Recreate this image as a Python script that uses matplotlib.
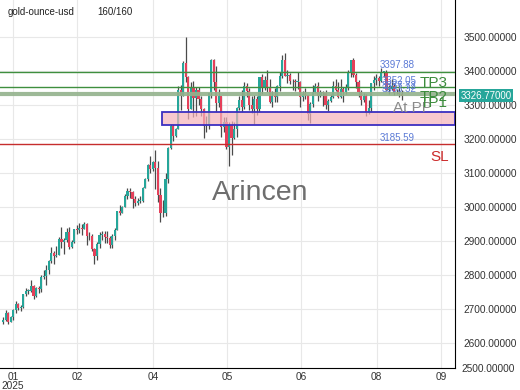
import matplotlib.pyplot as plt
import matplotlib.transforms as mtransforms
from matplotlib.patches import Rectangle
import numpy as np

plt.rcParams['font.family'] = ['Liberation Sans', 'DejaVu Sans']

# daily candles, 2025-01-09 .. 2025-08-19
opens = [2662, 2670, 2690, 2663, 2677, 2697, 2715, 2703, 2708, 2745, 2755, 2755, 2770, 2740, 2763, 2760, 2794,
         2798, 2815, 2842, 2866, 2856, 2861, 2908, 2898, 2904, 2928, 2882, 2898, 2935, 2933, 2939, 2936, 2952, 2915, 2916, 2876,
         2858, 2893, 2918, 2920, 2911, 2910, 2889, 2916, 2934, 2988, 2984, 3001, 3034, 3048, 3044, 3023, 3011, 3019, 3019, 3057, 3084,
         3123, 3113, 3134, 3114, 3037, 2982, 2983, 3082, 3175, 3237, 3210, 3230, 3343, 3327, 3424, 3381, 3288, 3349, 3319, 3344, 3317,
         3288, 3239, 3240, 3334, 3431, 3366, 3305, 3325, 3235, 3250, 3177, 3240, 3202, 3229, 3290, 3314, 3295, 3357, 3342, 3300, 3288, 3318,
         3289, 3381, 3352, 3372, 3352, 3310, 3325, 3322, 3355, 3386, 3432, 3385, 3389, 3369, 3370, 3368, 3368, 3323, 3332, 3328, 3274,
         3303, 3338, 3357, 3326, 3337, 3336, 3301, 3313, 3324, 3355, 3343, 3324, 3347, 3339, 3350, 3397, 3431, 3387, 3368, 3337, 3314, 3326, 3275,
         3290, 3363, 3373, 3380, 3369, 3397, 3398, 3343, 3348, 3356, 3335, 3336, 3332]
highs = [2678, 2697, 2692, 2681, 2700, 2725, 2718, 2712, 2746, 2763, 2759, 2786, 2773, 2765, 2770, 2800, 2817,
         2830, 2845, 2882, 2870, 2886, 2911, 2942, 2910, 2938, 2942, 2905, 2937, 2947, 2954, 2950, 2956, 2955, 2928, 2920, 2880,
         2898, 2928, 2930, 2930, 2930, 2915, 2922, 2940, 2990, 3005, 3002, 3038, 3057, 3057, 3047, 3034, 3026, 3032, 3060, 3087, 3128,
         3149, 3136, 3167, 3135, 3055, 3022, 3099, 3176, 3245, 3245, 3231, 3357, 3358, 3430, 3500, 3386, 3367, 3370, 3352, 3352, 3327,
         3290, 3269, 3335, 3436, 3435, 3414, 3346, 3326, 3266, 3265, 3251, 3252, 3250, 3295, 3325, 3345, 3366, 3365, 3350, 3326, 3330, 3325,
         3382, 3392, 3385, 3403, 3375, 3340, 3349, 3360, 3397, 3446, 3451, 3404, 3395, 3375, 3375, 3398, 3370, 3340, 3350, 3330, 3310,
         3358, 3365, 3366, 3345, 3342, 3345, 3318, 3331, 3369, 3375, 3366, 3377, 3352, 3361, 3402, 3433, 3438, 3393, 3373, 3345, 3334, 3333, 3315,
         3363, 3385, 3390, 3384, 3409, 3400, 3404, 3358, 3375, 3363, 3348, 3358, 3345]
lows = [2656, 2665, 2656, 2662, 2670, 2690, 2697, 2696, 2703, 2740, 2744, 2750, 2731, 2736, 2747, 2751, 2790,
        2772, 2805, 2836, 2834, 2853, 2860, 2880, 2864, 2898, 2877, 2880, 2894, 2920, 2925, 2918, 2936, 2890, 2904, 2872, 2832,
        2845, 2880, 2904, 2894, 2896, 2880, 2881, 2905, 2932, 2977, 2982, 3000, 3025, 3028, 2999, 3002, 3005, 3011, 3015, 3055, 3076,
        3100, 3105, 3054, 3015, 2957, 2970, 2975, 3072, 3170, 3194, 3205, 3228, 3284, 3325, 3367, 3260, 3287, 3266, 3268, 3300, 3269,
        3202, 3222, 3228, 3320, 3345, 3280, 3295, 3207, 3220, 3170, 3120, 3154, 3200, 3205, 3285, 3280, 3287, 3324, 3285, 3276, 3245, 3271,
        3280, 3333, 3343, 3338, 3306, 3293, 3310, 3310, 3340, 3380, 3384, 3365, 3362, 3345, 3340, 3348, 3295, 3312, 3317, 3255, 3247,
        3295, 3334, 3311, 3322, 3296, 3287, 3283, 3310, 3321, 3342, 3320, 3319, 3310, 3333, 3345, 3383, 3381, 3351, 3324, 3301, 3308, 3268, 3273,
        3280, 3345, 3358, 3357, 3367, 3382, 3341, 3331, 3344, 3330, 3331, 3323, 3314]
closes = [2670, 2690, 2663, 2677, 2697, 2715, 2703, 2708, 2745, 2755, 2755, 2770, 2740, 2763, 2760, 2794, 2798,
          2815, 2842, 2866, 2856, 2861, 2908, 2898, 2904, 2928, 2882, 2898, 2935, 2933, 2939, 2936, 2952, 2915, 2916, 2876, 2858,
          2893, 2918, 2920, 2911, 2910, 2889, 2916, 2934, 2988, 2984, 3001, 3034, 3048, 3044, 3023, 3011, 3019, 3019, 3057, 3084, 3123,
          3113, 3134, 3114, 3037, 2982, 2983, 3082, 3175, 3237, 3210, 3230, 3343, 3327, 3424, 3381, 3288, 3349, 3319, 3344, 3317, 3288,
          3239, 3240, 3334, 3431, 3366, 3305, 3325, 3235, 3250, 3177, 3240, 3202, 3229, 3290, 3314, 3295, 3357, 3342, 3300, 3288, 3318, 3289,
          3381, 3352, 3372, 3352, 3310, 3325, 3322, 3355, 3386, 3432, 3385, 3389, 3369, 3370, 3368, 3368, 3323, 3332, 3328, 3274, 3303,
          3338, 3357, 3326, 3337, 3336, 3301, 3313, 3324, 3355, 3343, 3324, 3347, 3339, 3350, 3397, 3431, 3387, 3368, 3337, 3314, 3326, 3275, 3290,
          3363, 3373, 3380, 3369, 3397, 3398, 3343, 3348, 3356, 3335, 3336, 3332, 3326.77]

price_ticks = [2600, 2700, 2800, 2900, 3000, 3100, 3200, 3300, 3400, 3500]
month_pos = [3.9, 29.1, 59.1, 88.2, 117.3, 147.2, 172.4]
month_labels = ['01\n2025', '02', '04', '05', '06', '08', '09']

tp_levels = [3397.88, 3352.05, 3337.72, 3333.32]
sl_level = 3185.59
zone = (3240, 3279)
zone_start = 62.6
last_price = 3326.77

o = np.array(opens); h = np.array(highs); l = np.array(lows); c = np.array(closes)
x = np.arange(len(c))
up = c >= o

fig = plt.figure(figsize=(5.2, 3.9), dpi=100)
ax = fig.add_axes([0, 22 / 390, 455 / 520, 368 / 390])

ax.set_xlim(-1.2, 178)
ax.set_ylim(2528, 3608)

# grid
for p in price_ticks:
    ax.axhline(p, color='#e8e8e8', lw=0.8, zorder=0)
for m in month_pos:
    ax.axvline(m, color='#e8e8e8', lw=0.8, zorder=0)

# candles
ax.vlines(x, l, h, color='#4a4a4a', lw=0.9, zorder=2)
body = np.maximum(np.abs(c - o), 1.5)
ax.bar(x[up], body[up], bottom=np.minimum(o, c)[up], width=0.85, color='#26a69a', zorder=3)
ax.bar(x[~up], body[~up], bottom=np.minimum(o, c)[~up], width=0.85, color='#e5405a', zorder=3)

# zone box
ax.add_patch(Rectangle((zone_start, zone[0]), 178 - zone_start, zone[1] - zone[0],
                       facecolor='#f5b3ba', alpha=0.7, edgecolor='none', zorder=4))
ax.add_patch(Rectangle((zone_start, zone[0]), 178 - zone_start, zone[1] - zone[0],
                       facecolor='none', edgecolor='#3b2fc0', lw=1.3, zorder=5))

# levels
ax.axhline(tp_levels[0], color='#3f8f3f', lw=1.0, zorder=5)
ax.axhline(tp_levels[1], color='#3f8f3f', lw=1.0, zorder=5)
ax.axhline(3331, color='#93b28c', lw=3.0, alpha=0.9, zorder=5)
ax.axhline(sl_level, color='#c62d2d', lw=1.0, zorder=5)

tr = mtransforms.blended_transform_factory(ax.transAxes, ax.transData)
blue = '#5b7ad6'
ax.text(380 / 455, 3418, '3397.88', transform=tr, color=blue, fontsize=7, va='center', zorder=7)
ax.text(382 / 455, 3369, '3352.05', transform=tr, color=blue, fontsize=7, va='center', zorder=7)
ax.text(382 / 455, 3356, '3337.72', transform=tr, color=blue, fontsize=7, va='center', zorder=7)
ax.text(382 / 455, 3347, '3333.32', transform=tr, color=blue, fontsize=7, va='center', zorder=7)
ax.text(380 / 455, 3203, '3185.59', transform=tr, color=blue, fontsize=7, va='center', zorder=7)

ax.text(393 / 455, 3291, 'At PP', transform=tr, color='#8a8a8a', fontsize=11, va='center', zorder=7)
ax.text(420 / 455, 3365, 'TP3', transform=tr, color='#3c8c3c', fontsize=11, va='center', zorder=8)
ax.text(420 / 455, 3324, 'TP2', transform=tr, color='#3c8c3c', fontsize=11, va='center', zorder=8)
ax.text(420 / 455, 3306, 'TP1', transform=tr, color='#3c8c3c', fontsize=11, va='center', zorder=8)
ax.text(430 / 455, 3148, 'SL', transform=tr, color='#cc2b2b', fontsize=11, va='center', zorder=8)

# axes styling
for s in ['top', 'left']:
    ax.spines[s].set_visible(False)
ax.spines['right'].set_color('black')
ax.spines['bottom'].set_color('black')
ax.yaxis.tick_right()
ax.set_yticks(price_ticks)
ax.set_yticklabels(['%.5f' % p for p in price_ticks])
ax.set_xticks(month_pos)
ax.set_xticklabels(month_labels, linespacing=0.9)
ax.tick_params(axis='y', length=0, pad=6, labelsize=7.3, labelcolor='#333333')
ax.tick_params(axis='x', length=0, pad=3, labelsize=7.3, labelcolor='#333333')

# last price badge
ax.text(1.013, last_price, '%.5f' % last_price, transform=tr, color='white', fontsize=7,
        va='center', ha='left', zorder=10, clip_on=False,
        bbox=dict(boxstyle='square,pad=0.15', facecolor='#26a69a', edgecolor='none'))

fig.text(461 / 520, 1 - 369 / 390, '2500.00000', fontsize=7.3, color='#333333', va='center')

# header and watermark
fig.text(8 / 520, 1 - 12 / 390, 'gold-ounce-usd', fontsize=7, color='#222222', va='center')
fig.text(97 / 520, 1 - 12 / 390, '160/160', fontsize=7, color='#222222', va='center')
fig.text(260 / 520, 1 - 193 / 390, 'Arincen', fontsize=20.5, color='#555555', alpha=0.85,
         ha='center', va='center')

fig.savefig('out.png', dpi=100)
